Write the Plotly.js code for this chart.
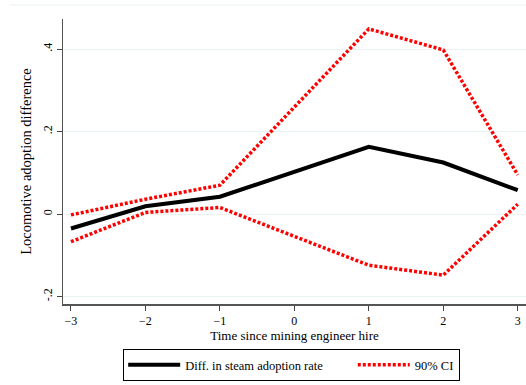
<!DOCTYPE html>
<html>
<head>
<meta charset="utf-8">
<script src="https://cdn.plot.ly/plotly-3.0.1.min.js"></script>
<style>html,body{margin:0;padding:0;background:#fff;}</style>
</head>
<body>
<div id="chart" style="width:526px;height:385px;"></div>
<script>
var periods = [-3, -2, -1, 0, 1, 2, 3];
var diffRate = [-0.035, 0.019, 0.042, 0.103, 0.163, 0.125, 0.058];
var ciUpper = [-0.002, 0.036, 0.070, 0.259, 0.449, 0.398, 0.095];
var ciLower = [-0.067, 0.004, 0.016, -0.054, -0.124, -0.148, 0.024];
var yTickVals = [-0.2, 0, 0.2, 0.4];
var yTickText = ['-.2', '0', '.2', '.4'];
var xTickVals = [-3, -2, -1, 0, 1, 2, 3];
var seriesNames = ['Diff. in steam adoption rate', '90% CI'];

var serif = 'Liberation Serif, Times New Roman, serif';
function nb(n) { return new Array(n + 1).join('\u00a0'); }

var traces = [
  {x: periods, y: diffRate, mode: 'lines', name: seriesNames[0] + nb(8),
   line: {color: '#000000', width: 4}},
  {x: periods, y: ciUpper, mode: 'lines', name: seriesNames[1], legendgroup: 'ci',
   line: {color: '#ff0000', width: 3.5, dash: '3px,2px'}},
  {x: periods, y: ciLower, mode: 'lines', name: seriesNames[1], legendgroup: 'ci', showlegend: false,
   line: {color: '#ff0000', width: 3.5, dash: '3px,2px'}}
];

var layout = {
  width: 526, height: 385,
  margin: {l: 63, r: 0, t: 19, b: 81},
  paper_bgcolor: '#ffffff', plot_bgcolor: '#ffffff',
  font: {family: serif, color: '#000000', size: 12},
  showlegend: true,
  legend: {
    orientation: 'h', x: 0.13, xanchor: 'left', y: -0.158, yanchor: 'top',
    bordercolor: '#000000', borderwidth: 1, bgcolor: '#ffffff',
    itemwidth: 52,
    font: {family: serif, size: 12.5, color: '#000000'}
  },
  xaxis: {
    range: [-3.107, 3.111], tickvals: xTickVals, ticks: 'outside', ticklen: 5,
    tickcolor: '#444', showline: true, linecolor: '#555', linewidth: 1.5,
    showgrid: false, zeroline: false,
    tickfont: {family: serif, size: 12, color: '#000'},
    title: {text: 'Time since mining engineer hire', font: {family: serif, size: 13, color: '#000'}, standoff: 2}
  },
  yaxis: {
    range: [-0.218, 0.473], tickvals: yTickVals, ticktext: yTickText, tickangle: -90,
    ticks: 'outside', ticklen: 5, tickcolor: '#444', showline: true, linecolor: '#555', linewidth: 1.5,
    showgrid: true, gridcolor: '#eaf2f3', gridwidth: 1, zeroline: false,
    tickfont: {family: serif, size: 12, color: '#000'},
    title: {text: 'Locomotive adoption difference', font: {family: serif, size: 14.5, color: '#000'}, standoff: 5}
  },
  shapes: [
    {type: 'line', xref: 'paper', yref: 'paper', x0: -0.115, x1: 1, y0: 1.049, y1: 1.049,
     line: {color: '#eaf2f3', width: 1}}
  ]
};

Plotly.newPlot('chart', traces, layout, {displayModeBar: false, staticPlot: true});
</script>
</body>
</html>
